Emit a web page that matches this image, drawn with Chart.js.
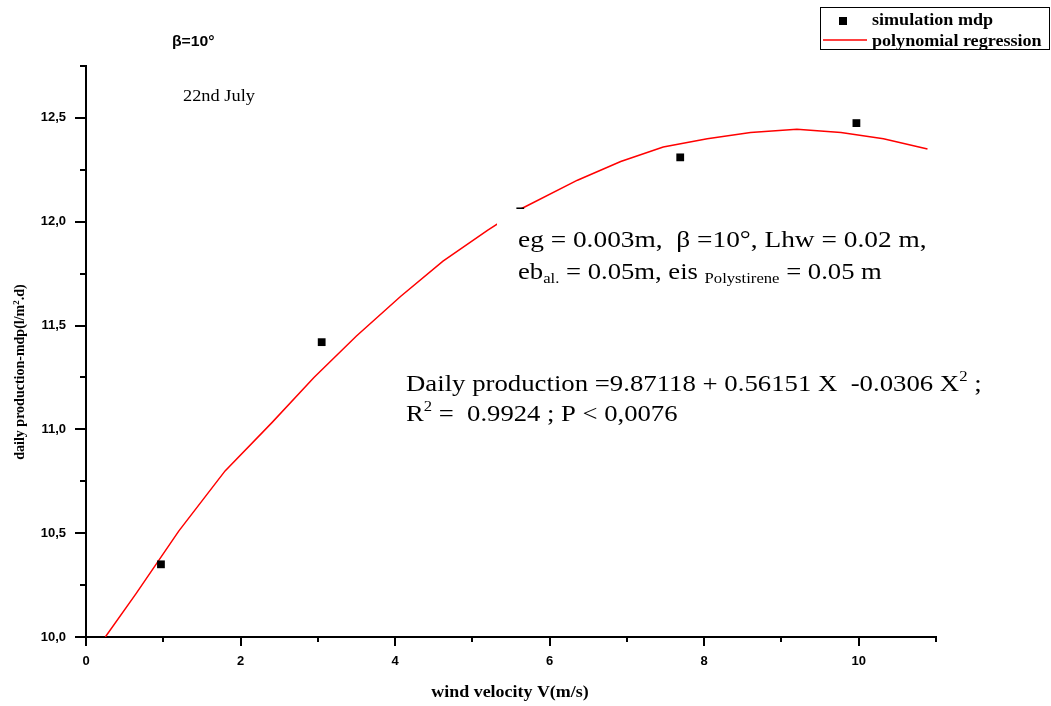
<!DOCTYPE html>
<html>
<head>
<meta charset="utf-8">
<script src="https://cdn.jsdelivr.net/npm/chart.js@4.4.1/dist/chart.umd.min.js"></script>
<style>
  html, body { margin: 0; padding: 0; background: #fff; }
  #wrap { width: 1051px; height: 706px; position: relative; }
</style>
</head>
<body>
<div id="wrap"><canvas id="grafico"></canvas></div>
<script>
// simulated daily production vs wind velocity
const simX = [0.97, 3.05, 5.62, 7.69, 9.97];
const simY = [10.35, 11.42, 12.05, 12.31, 12.475];

// regression curve
const curveX = [0.25, 0.65, 1.2, 1.8, 2.4, 2.95, 3.5, 4.07, 4.62, 5.2, 5.62, 6.36, 6.92, 7.47, 8.04, 8.6, 9.2, 9.77, 10.32, 10.89];
const curveY = [10.0, 10.21, 10.51, 10.8, 11.03, 11.25, 11.45, 11.64, 11.81, 11.96, 12.06, 12.2, 12.29, 12.36, 12.4, 12.43, 12.445, 12.43, 12.4, 12.35];

const xTicks = [0, 2, 4, 6, 8, 10];
const yTicks = ['10,0', '10,5', '11,0', '11,5', '12,0', '12,5'];

const serif = "'Liberation Serif', 'Times New Roman', serif";
const sans = "'Liberation Sans', Arial, sans-serif";

// draws a run of text pieces (sub/superscripts) with a horizontal stretch
function drawRuns(ctx, x, y, runs, sx) {
    ctx.save();
    ctx.translate(x, y);
    ctx.scale(sx || 1, 1);
    let cx = 0;
    runs.forEach(r => {
        ctx.font = (r.bold ? 'bold ' : '') + r.size + 'px ' + (r.family || serif);
        ctx.fillText(r.t, cx, r.dy || 0);
        cx += ctx.measureText(r.t).width;
    });
    ctx.restore();
    return cx * (sx || 1);
}

function runsWidth(ctx, runs) {
    let w = 0;
    runs.forEach(r => {
        ctx.font = (r.bold ? 'bold ' : '') + r.size + 'px ' + (r.family || serif);
        w += ctx.measureText(r.t).width;
    });
    return w;
}

const decor = {
    id: 'decor',
    afterDatasetsDraw(chart) {
        const ctx = chart.ctx;
        ctx.save();
        // white box behind the parameter text (hides part of the curve)
        ctx.fillStyle = '#fff';
        ctx.fillRect(497, 209, 440, 80);
        ctx.restore();
    },
    afterDraw(chart) {
        const { ctx, chartArea: a, scales: { x, y } } = chart;
        ctx.save();
        ctx.strokeStyle = '#000';
        ctx.lineWidth = 2;
        ctx.beginPath();
        for (let v = 0; v <= 11; v++) {
            const px = Math.round(x.getPixelForValue(v));
            const len = v % 2 === 0 ? 9 : 5;
            ctx.moveTo(px, a.bottom);
            ctx.lineTo(px, a.bottom + len);
        }
        for (let i = 0; i <= 11; i++) {
            const v = 10 + i * 0.25;
            const py = Math.round(y.getPixelForValue(v));
            const len = i % 2 === 0 ? 11 : 6;
            ctx.moveTo(a.left, py);
            ctx.lineTo(a.left - len, py);
        }
        ctx.stroke();

        ctx.fillStyle = '#000';
        ctx.textBaseline = 'alphabetic';
        ctx.textAlign = 'left';

        // top labels
        drawRuns(ctx, 172, 46, [{ t: 'β=10°', size: 15, bold: true, family: sans }], 1.05);
        drawRuns(ctx, 183, 101, [{ t: '22nd July', size: 17 }], 1.08);

        // parameters
        drawRuns(ctx, 518, 247, [{ t: 'eg = 0.003m,  β =10°, Lhw = 0.02 m,', size: 24 }], 1.14);
        drawRuns(ctx, 518, 279, [
            { t: 'eb', size: 24 },
            { t: 'al.', size: 15, dy: 4 },
            { t: ' = 0.05m, eis ', size: 24 },
            { t: 'Polystirene', size: 15, dy: 4 },
            { t: ' = 0.05 m', size: 24 }
        ], 1.11);

        // regression equation
        drawRuns(ctx, 406, 391, [
            { t: 'Daily production =9.87118 + 0.56151 X  -0.0306 X', size: 24 },
            { t: '2', size: 15, dy: -10 },
            { t: ' ;', size: 24 }
        ], 1.115);
        drawRuns(ctx, 406, 421, [
            { t: 'R', size: 24 },
            { t: '2', size: 15, dy: -10 },
            { t: ' =  0.9924 ; P < 0,0076', size: 24 }
        ], 1.11);

        // axis titles
        const xt = [{ t: 'wind velocity V(m/s)', size: 16, bold: true }];
        const xw = runsWidth(ctx, xt) * 1.12;
        drawRuns(ctx, 510 - xw / 2, 697, xt, 1.12);

        const yt = [
            { t: 'daily production-mdp(l/m', size: 14, bold: true },
            { t: '2', size: 9, dy: -5, bold: true },
            { t: '.d)', size: 14, bold: true }
        ];
        ctx.save();
        ctx.translate(24, 372);
        ctx.rotate(-Math.PI / 2);
        const yw = runsWidth(ctx, yt);
        drawRuns(ctx, -yw / 2, 0, yt, 1);
        ctx.restore();

        // legend
        ctx.lineWidth = 1;
        ctx.strokeStyle = '#000';
        ctx.strokeRect(820.5, 7.5, 229, 42);
        ctx.fillStyle = '#000';
        ctx.fillRect(839, 17, 8, 8);
        ctx.strokeStyle = '#ff0000';
        ctx.lineWidth = 1.5;
        ctx.beginPath();
        ctx.moveTo(823, 40);
        ctx.lineTo(867, 40);
        ctx.stroke();
        ctx.fillStyle = '#000';
        drawRuns(ctx, 872, 25, [{ t: 'simulation mdp', size: 16, bold: true }], 1.13);
        drawRuns(ctx, 872, 46, [{ t: 'polynomial regression', size: 16, bold: true }], 1.13);
        ctx.restore();
    }
};

const ctx = document.getElementById('grafico');

new Chart(ctx, {
    type: 'scatter',
    data: {
        datasets: [
            {
                label: 'polynomial regression',
                data: curveX.map((v, i) => ({ x: v, y: curveY[i] })),
                showLine: true,
                borderColor: '#ff0000',
                borderWidth: 1.5,
                pointRadius: 0,
                tension: 0,
                order: 2
            },
            {
                label: 'simulation mdp',
                data: simX.map((v, i) => ({ x: v, y: simY[i] })),
                pointStyle: 'rect',
                pointRadius: 5.5,
                pointBorderWidth: 0,
                backgroundColor: '#000',
                borderColor: '#000',
                order: 1
            }
        ]
    },
    options: {
        responsive: true,
        maintainAspectRatio: false,
        animation: false,
        layout: { padding: { top: 66, right: 115, left: 0, bottom: 0 } },
        plugins: {
            legend: { display: false },
            tooltip: { enabled: false }
        },
        scales: {
            x: {
                type: 'linear',
                min: 0,
                max: 11,
                afterFit: s => { s.height = 69; },
                grid: { display: false, drawTicks: false },
                border: { display: true, color: '#000', width: 2 },
                ticks: {
                    stepSize: 2,
                    includeBounds: false,
                    padding: 17,
                    color: '#000',
                    font: { family: sans, weight: 'bold', size: 13 },
                    callback: v => xTicks.includes(v) ? String(v) : ''
                }
            },
            y: {
                type: 'linear',
                min: 10,
                max: 12.75,
                afterFit: s => { s.width = 86; },
                grid: { display: false, drawTicks: false },
                border: { display: true, color: '#000', width: 2 },
                ticks: {
                    stepSize: 0.5,
                    includeBounds: false,
                    padding: 20,
                    color: '#000',
                    font: { family: sans, weight: 'bold', size: 13 },
                    callback: v => {
                        const s = v.toFixed(1).replace('.', ',');
                        return yTicks.includes(s) ? s : '';
                    }
                }
            }
        }
    },
    plugins: [decor]
});
</script>
</body>
</html>
